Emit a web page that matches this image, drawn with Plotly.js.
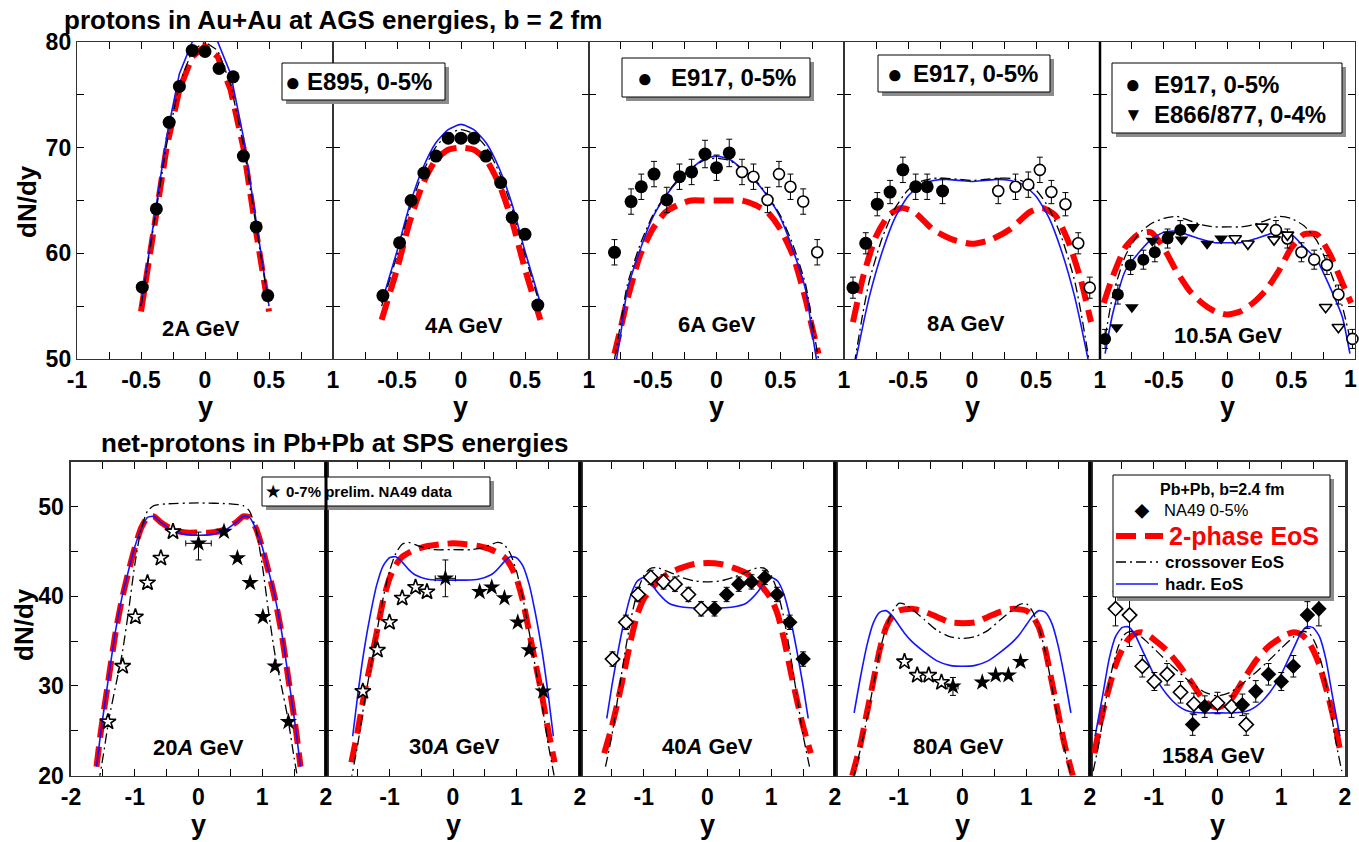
<!DOCTYPE html>
<html><head><meta charset="utf-8">
<script src="https://cdn.plot.ly/plotly-3.0.1.min.js"></script>
<style>html,body{margin:0;padding:0;background:#fff;} #chart{width:1359px;height:842px;}</style>
</head><body><div id="chart"></div>
<script>
// ===================== DATA =====================
// ---- top row: protons in Au+Au (AGS) ----
const panelLabelsTop = ['2A GeV','4A GeV','6A GeV','8A GeV','10.5A GeV'];
const panelLabelsBot = ['20<i>A</i> GeV','30<i>A</i> GeV','40<i>A</i> GeV','80<i>A</i> GeV','158<i>A</i> GeV'];
const ticksTopFirst = [-1,-0.5,0,0.5,1];
const ticksTopRest = [-0.5,0,0.5,1];
const ticksTopLast = [-0.5,0,0.5];
const lastTopEdgeLabel = '1';
const ticksBotFirst = [-2,-1,0,1,2];
const ticksBotRest = [-1,0,1,2];
const yTicksTop = [50,60,70,80];
const yTicksBot = [20,30,40,50];

// 2A GeV
const e895_2_x = [-0.49,-0.38,-0.28,-0.2,-0.1,0,0.11,0.22,0.3,0.4,0.49];
const e895_2_y = [56.8,64.2,72.4,75.8,79.2,79.1,77.5,76.7,69.2,62.5,56.0];
const c2_x   = [-0.5,-0.4,-0.3,-0.2,-0.1,0,0.1,0.2,0.3,0.4,0.5];
const red2   = [54.5,62,70,75.5,78.6,79.6,78.6,75.5,70,62,54.5];
const black2 = [55,62.5,70.3,76,79.2,80,79.2,76,70.3,62.5,55];
const blue2  = [55,63,71,77,80,81,80,77,71,63,55];

// 4A GeV
const e895_4_x = [-0.61,-0.48,-0.39,-0.29,-0.195,-0.1,0,0.1,0.195,0.31,0.4,0.5,0.6];
const e895_4_y = [56.0,61.0,65.0,67.6,69.2,70.9,70.9,70.9,69.2,66.7,63.4,61.8,55.1];
const c4_x   = [-0.62,-0.5,-0.4,-0.3,-0.2,-0.1,0,0.1,0.2,0.3,0.4,0.5,0.62];
const red4   = [53.7,58.5,63,66.5,68.8,69.8,70.0,69.8,68.8,66.5,63,58.5,53.7];
const black4 = [55,59.8,64.2,67.6,70.0,71.3,71.7,71.3,70.0,67.6,64.2,59.8,55];
const blue4  = [55.3,60.2,64.6,68.0,70.4,71.7,72.2,71.7,70.4,68.0,64.6,60.2,55.3];

// 6A GeV
const e917_6f_x = [-0.8,-0.67,-0.59,-0.49,-0.39,-0.29,-0.195,-0.09,0,0.1];
const e917_6f_y = [60.1,64.9,66.3,67.5,65.05,67.25,67.7,69.4,68.1,69.5];
const e917_6f_e = [1.2,1.2,1.2,1.2,1.2,1.2,1.2,1.3,1.2,1.3];
const e917_6o_x = [0.2,0.29,0.4,0.49,0.58,0.68,0.79];
const e917_6o_y = [67.7,67.25,65.05,67.5,66.3,64.9,60.1];
const e917_6o_e = [1.2,1.2,1.2,1.2,1.2,1.2,1.2];
const c6_x   = [-0.8,-0.75,-0.7,-0.6,-0.5,-0.4,-0.3,-0.2,-0.1,0,0.1,0.2,0.3,0.4,0.5,0.6,0.7,0.75,0.8];
const red6   = [50.5,53,55.6,59.8,62.3,63.9,64.6,65.0,65.0,65.0,65.0,65.0,64.6,63.9,62.3,59.8,55.6,53,50.5];
const black6 = [50.0,53.5,57.0,60.8,63.6,65.5,67.0,68.0,68.8,69.0,68.8,68.0,67.0,65.5,63.6,60.8,57.0,53.5,50.0];
const blue6  = [48.8,52.5,56.5,60.3,63.4,65.4,66.9,68.0,68.9,69.2,68.9,68.0,66.9,65.4,63.4,60.3,56.5,52.5,48.8];

// 8A GeV
const e917_8f_x = [-0.93,-0.83,-0.74,-0.64,-0.54,-0.44,-0.35,-0.23];
const e917_8f_y = [56.75,60.95,64.65,65.8,67.9,66.3,66.3,65.9];
const e917_8f_e = [1.0,1.0,1.1,1.1,1.2,1.2,1.2,1.2];
const e917_8o_x = [0.205,0.34,0.44,0.53,0.62,0.73,0.83,0.92];
const e917_8o_y = [65.9,66.3,66.5,67.9,65.8,64.65,60.95,56.75];
const e917_8o_e = [1.2,1.2,1.2,1.2,1.1,1.1,1.0,1.0];
const c8_x   = [-0.92,-0.85,-0.8,-0.7,-0.6,-0.5,-0.4,-0.3,-0.2,-0.1,0,0.1,0.2,0.3,0.4,0.5,0.6,0.7,0.8,0.85,0.92];
const black8 = [49.5,54.5,57.5,61.5,64.3,66.0,66.8,67.1,67.1,67.0,66.9,67.0,67.1,67.1,66.8,66.0,64.3,61.5,57.5,54.5,49.5];
const blue8  = [49.2,53.3,56.0,60.2,63.4,65.4,66.5,66.9,67.0,66.9,66.8,66.9,67.0,66.9,66.5,65.4,63.4,60.2,56.0,53.3,49.2];
const r8_x   = [-0.93,-0.85,-0.75,-0.65,-0.55,-0.45,-0.3,-0.15,0,0.15,0.3,0.45,0.55,0.65,0.75,0.85,0.93];
const red8   = [53.5,57.8,61.6,63.6,64.3,63.9,62.2,61.3,60.9,61.3,62.3,63.9,64.3,63.6,61.2,57.5,53.5];

// 10.5A GeV
const e917_10f_x = [-0.96,-0.86,-0.76,-0.66,-0.57,-0.47,-0.37];
const e917_10f_y = [51.9,56.1,58.9,59.4,60.1,61.4,62.2];
const e917_10o_x = [0.38,0.47,0.58,0.68,0.78,0.87,0.98];
const e917_10o_y = [62.2,61.4,60.1,59.4,58.9,56.1,51.9];
const e917_10_e  = [0.9,0.9,0.9,0.9,0.9,0.9,0.9];
const e866_f_x = [-0.87,-0.75,-0.59,-0.455,-0.36,-0.27,-0.16,-0.05];
const e866_f_y = [53.0,54.9,61.2,61.75,61.3,62.5,60.9,61.4];
const e866_o_x = [0.06,0.16,0.27,0.365,0.47,0.77,0.87];
const e866_o_y = [61.4,60.9,62.5,61.3,61.75,54.9,53.0];
const c10_x   = [-0.96,-0.9,-0.8,-0.7,-0.6,-0.5,-0.4,-0.3,-0.2,-0.1,0,0.1,0.2,0.3,0.4,0.5,0.6,0.7,0.8,0.9,0.96];
const black10 = [52.0,56.0,59.8,61.8,62.8,63.3,63.5,63.1,62.7,62.5,62.5,62.5,62.7,63.1,63.5,63.3,62.6,61.2,58.5,55.0,52.0];
const blue10  = [50.5,54.3,58.4,60.0,61.3,62.0,62.1,61.7,61.3,61.0,61.0,61.0,61.3,61.7,62.1,61.8,60.6,59.4,56.9,54.0,50.5];
const r10_x   = [-0.97,-0.9,-0.8,-0.7,-0.6,-0.5,-0.4,-0.3,-0.2,-0.1,0,0.1,0.2,0.3,0.4,0.5,0.6,0.7,0.8,0.9,0.97];
const red10   = [55.3,57.8,60.6,61.8,62.0,60.5,58.3,56.5,55.3,54.5,54.2,54.5,55.3,56.5,58.3,60.5,61.8,61.8,60.0,57.2,55.3];

// ---- bottom row: net-protons in Pb+Pb (SPS) ----
// 20A GeV
const na49_20o_x = [-1.42,-1.19,-0.99,-0.8,-0.59,-0.4];
const na49_20o_y = [26.0,32.2,37.7,41.5,44.25,47.2];
const na49_20f_x = [0,0.4,0.61,0.81,1.01,1.2,1.41];
const na49_20f_y = [45.9,47.2,44.25,41.5,37.7,32.2,26.0];
const na49_20f_eup = [1.25,0,0,0,0,0,0];
const na49_20f_edn = [1.85,0,0,0,0,0,0];
const na49_20f_ex  = [0.2,0,0,0,0,0,0];
const c20_x  = [-1.6,-1.53,-1.42,-1.3,-1.2,-1.1,-1.0,-0.9,-0.8,-0.7,-0.6,-0.4,-0.2,0,0.2,0.4,0.6,0.7,0.8,0.9,1.0,1.1,1.2,1.3,1.42,1.53,1.6];
const red20  = [21,25,30.3,36,39.7,42.7,45.4,47.6,48.8,48.9,48.3,47.4,47.1,47.1,47.1,47.4,48.3,48.9,48.8,47.6,45.4,42.7,39.7,36,30.3,25,21];
const blue20 = [21,25,30.5,36.2,39.9,42.8,45.5,47.5,48.8,48.9,48.3,47.3,46.9,46.8,46.9,47.3,48.3,48.9,48.8,47.5,45.5,42.8,39.9,36.2,30.5,25,21];
const b20_x  = [-1.62,-1.5,-1.4,-1.3,-1.2,-1.1,-1.0,-0.9,-0.8,-0.7,-0.5,0,0.5,0.7,0.8,0.9,1.0,1.1,1.2,1.3,1.4,1.5,1.62];
const black20= [17,22,26.5,30,33.5,38.2,43.5,47.5,49.5,50.1,50.3,50.4,50.3,50.1,49.5,47.5,43.5,38.2,33.5,30,26.5,22,17];

// 30A GeV
const na49_30o_x = [-1.42,-1.19,-1.0,-0.8,-0.59,-0.41];
const na49_30o_y = [29.4,34.0,37.1,39.8,41.0,40.5];
const na49_30f_x = [-0.12,0.42,0.61,0.81,1.02,1.2,1.42];
const na49_30f_y = [42.0,40.5,41.0,39.8,37.1,34.0,29.4];
const na49_30f_e  = [2.05,0,0,0,0,0,0];
const na49_30f_ex = [0.16,0,0,0,0,0,0];
const bl30_x = [-1.58,-1.5,-1.4,-1.3,-1.2,-1.1,-1.0,-0.9,-0.8,-0.7,-0.6,-0.4,-0.2,0,0.2,0.4,0.6,0.7,0.8,0.9,1.0,1.1,1.2,1.3,1.4,1.5,1.58];
const blue30 = [24.4,29,34,38,41.3,43.4,44.3,44.4,43.8,43.0,42.4,41.9,41.8,41.8,41.8,41.9,42.4,43.0,43.8,44.4,44.3,43.4,41.3,38,34,29,24.4];
const r30_x  = [-1.6,-1.5,-1.4,-1.3,-1.2,-1.1,-1.0,-0.9,-0.8,-0.6,-0.4,-0.2,0,0.2,0.4,0.6,0.8,0.9,1.0,1.1,1.2,1.3,1.4,1.5,1.6];
const red30  = [21.5,25,29,32.5,36,39.5,42,43.5,44.4,45.2,45.6,45.8,45.9,45.8,45.6,45.2,44.4,43.5,42,39.5,36,32.5,29,25,21.5];
const b30_x  = [-1.62,-1.5,-1.4,-1.3,-1.2,-1.1,-1.0,-0.9,-0.8,-0.7,-0.5,-0.3,0,0.3,0.5,0.7,0.8,0.9,1.0,1.1,1.2,1.3,1.4,1.5,1.62];
const black30= [19,23.5,28,32,36,39.8,42.8,44.8,45.8,46.0,45.5,45.2,45.2,45.2,45.5,46.0,45.8,44.8,42.8,39.8,36,32,28,23.5,19];

// 40A GeV
const na49_40o_x = [-1.49,-1.28,-1.09,-0.89,-0.69,-0.51,-0.30,-0.10];
const na49_40o_y = [33.0,37.1,40.2,42.1,41.6,41.35,40.2,38.6];
const na49_40f_x = [0.11,0.30,0.49,0.69,0.90,1.09,1.29,1.50];
const na49_40f_y = [38.6,40.2,41.35,41.6,42.1,40.2,37.1,33.0];
const na49_40_e  = [0.8,0.8,0.8,0.8,0.8,0.8,0.8,0.8];
const bl40_x = [-1.58,-1.5,-1.4,-1.3,-1.2,-1.1,-1.0,-0.9,-0.8,-0.7,-0.6,-0.4,-0.2,0,0.2,0.4,0.6,0.7,0.8,0.9,1.0,1.1,1.2,1.3,1.4,1.5,1.58];
const blue40 = [26.4,30,34,37.5,40.2,41.7,42.1,41.6,40.6,39.8,39.2,38.8,38.7,38.7,38.7,38.8,39.2,39.8,40.6,41.6,42.1,41.7,40.2,37.5,34,30,26.4];
const b40_x  = [-1.6,-1.5,-1.4,-1.3,-1.2,-1.1,-1.0,-0.9,-0.8,-0.6,-0.4,-0.2,0,0.2,0.4,0.6,0.8,0.9,1.0,1.1,1.2,1.3,1.4,1.5,1.6];
const black40= [21,24.5,29,33.5,37.5,40.5,42.3,43.1,43.2,42.7,42.1,41.7,41.6,41.7,42.1,42.7,43.2,43.1,42.3,40.5,37.5,33.5,29,24.5,21];
const r40_x  = [-1.62,-1.5,-1.4,-1.3,-1.2,-1.1,-1.0,-0.8,-0.6,-0.4,-0.2,0,0.2,0.4,0.6,0.8,1.0,1.1,1.2,1.3,1.4,1.5,1.62];
const red40  = [22.5,25.5,28.5,31.8,35.2,38,39.7,41.5,42.6,43.2,43.6,43.7,43.6,43.2,42.6,41.5,39.7,38,35.2,31.8,28.5,25.5,22.5];

// 80A GeV
const na49_80o_x = [-0.91,-0.71,-0.53,-0.33];
const na49_80o_y = [32.7,31.2,31.2,30.4];
const na49_80f_x = [-0.15,0.31,0.52,0.72,0.91];
const na49_80f_y = [29.95,30.4,31.2,31.2,32.7];
const na49_80f_e  = [1.0,0,0,0,0];
const na49_80f_ex = [0.08,0,0,0,0];
const bl80_x = [-1.7,-1.6,-1.5,-1.4,-1.3,-1.2,-1.1,-1.0,-0.9,-0.8,-0.6,-0.4,-0.2,0,0.2,0.4,0.6,0.8,0.9,1.0,1.1,1.2,1.3,1.4,1.5,1.6,1.7];
const blue80 = [27,31,34.5,37,38.2,38.4,37.8,36.8,35.8,35,33.8,32.8,32.3,32.2,32.3,32.8,33.8,35,35.8,36.8,37.8,38.4,38.2,37,34.5,31,27];
const b80_x  = [-1.72,-1.6,-1.5,-1.4,-1.3,-1.2,-1.1,-1.0,-0.9,-0.8,-0.6,-0.4,-0.2,0,0.2,0.4,0.6,0.8,0.9,1.0,1.1,1.2,1.3,1.4,1.5,1.6,1.72];
const black80= [19.5,23,26.3,30,33.8,36.5,38.3,39.2,39.1,38.6,37.4,36.2,35.5,35.3,35.5,36.2,37.4,38.6,39.1,39.2,38.3,36.5,33.8,30,26.3,23,19.5];
const r80_x  = [-1.73,-1.6,-1.5,-1.4,-1.3,-1.2,-1.1,-1.0,-0.8,-0.6,-0.4,-0.2,0,0.2,0.4,0.6,0.8,1.0,1.1,1.2,1.3,1.4,1.5,1.6,1.73];
const red80  = [20,23.5,27,30.5,34,36.5,37.8,38.4,38.6,38.3,37.7,37.1,37.0,37.1,37.7,38.3,38.6,38.4,37.8,36.5,34,30.5,27,23.5,20];

// 158A GeV
const na49_158o_x = [-1.6,-1.38,-1.18,-0.99,-0.79,-0.58,-0.37,0,0.22,0.45];
const na49_158o_y = [38.6,37.9,32.2,30.5,31.3,29.3,28.0,28.1,27.7,25.7];
const na49_158o_e = [1.9,3.5,1.2,1.0,1.2,1.2,1.2,1.2,1.2,1.2];
const na49_158f_x = [-0.39,-0.2,0.39,0.6,0.8,1.0,1.19,1.41,1.59];
const na49_158f_y = [25.7,27.7,27.9,29.4,31.3,30.5,32.2,37.9,38.6];
const na49_158f_e = [1.2,1.2,1.2,1.2,1.2,1.0,1.2,1.5,1.9];
const bl158_x = [-1.92,-1.8,-1.7,-1.6,-1.5,-1.4,-1.3,-1.2,-1.1,-1.0,-0.9,-0.8,-0.7,-0.6,-0.5,-0.4,-0.2,0,0.2,0.4,0.5,0.6,0.7,0.8,0.9,1.0,1.1,1.2,1.3,1.4,1.5,1.6,1.7,1.8,1.92];
const blue158 = [24.4,29,33,35.5,36.5,36.6,35.8,34.3,32.8,31.3,30.1,29.1,28.3,27.7,27.3,27.1,27.0,27.0,27.0,27.1,27.3,27.7,28.3,29.1,30.1,31.3,32.8,34.3,35.8,36.6,36.5,35.5,33,29,24.4];
const b158_x  = [-1.95,-1.85,-1.75,-1.65,-1.55,-1.45,-1.35,-1.2,-1.0,-0.8,-0.6,-0.4,-0.2,0,0.2,0.4,0.6,0.8,1.0,1.2,1.35,1.45,1.55,1.65,1.75,1.85,1.95];
const black158= [20.5,24,28.5,32,34.5,35.8,36.1,35.5,34.2,32.8,31.5,30.3,29.3,28.9,29.3,30.3,31.5,32.8,34.2,35.5,36.1,35.8,34.5,32,28.5,24,20.5];
const r158_x  = [-1.93,-1.85,-1.75,-1.6,-1.5,-1.4,-1.3,-1.2,-1.1,-1.0,-0.8,-0.6,-0.4,-0.2,0,0.2,0.4,0.6,0.8,1.0,1.1,1.2,1.3,1.4,1.5,1.6,1.75,1.85,1.93];
const red158  = [22.5,25.5,28.5,32.3,34,35.2,35.8,36.0,35.7,35.2,34.0,32.3,30.3,28.3,27.6,28.4,30.6,32.8,34.4,35.4,35.8,36.0,35.8,35.2,34,32.3,28.5,25.5,22.5];

// ===================== DRAWING =====================
const W = 1359, H = 842;
const px = x => x / W, py = y => 1 - y / H;
const FONT = 'Liberation Sans, Arial, sans-serif';
const topX = [77,333,589,844,1100,1355];
const botX = [71,326,580,835,1090,1345];
const topY = [42,359], botY = [461.7,775.7];

const STY = {
  red:   {color:'#ff0000', width:6, dash:'20px,9px'},
  black: {color:'#000000', width:1.3, dash:'10px,4px,2px,4px'},
  blue:  {color:'#1414ff', width:1.6}
};
const traces = [];
const sfx = i => (i === 1 ? '' : String(i));
function curve(i, xs, ys, kind, shape) {
  traces.push({type:'scatter', mode:'lines', x:xs, y:ys, xaxis:'x'+sfx(i), yaxis:'y'+sfx(i),
    line:Object.assign({shape: shape || 'spline', smoothing:0.6}, STY[kind]), hoverinfo:'skip', showlegend:false});
}
function pts(i, xs, ys, symbol, open, size, ey, opts) {
  const t = {type:'scatter', mode:'markers', x:xs, y:ys, xaxis:'x'+sfx(i), yaxis:'y'+sfx(i),
    marker:{symbol:symbol, size:size, color: open ? '#ffffff' : '#000000', line:{color:'#000000', width: open ? 1.6 : 0}},
    hoverinfo:'skip', showlegend:false, cliponaxis:false};
  if (ey) t.error_y = {type:'data', array:ey, color:'#000', thickness:1, width:3};
  if (opts && opts.eyminus) { t.error_y.symmetric = false; t.error_y.arrayminus = opts.eyminus; }
  if (opts && opts.ex) t.error_x = {type:'data', array:opts.ex, color:'#000', thickness:1, width:3};
  traces.push(t);
}

// panel 1: 2A
curve(1, c2_x, red2, 'red', 'linear'); curve(1, c2_x, blue2, 'blue', 'linear'); curve(1, c2_x, black2, 'black', 'linear');
pts(1, e895_2_x, e895_2_y, 'circle', false, 13);
// panel 2: 4A
curve(2, c4_x, red4, 'red'); curve(2, c4_x, blue4, 'blue'); curve(2, c4_x, black4, 'black');
pts(2, e895_4_x, e895_4_y, 'circle', false, 13);
// panel 3: 6A
curve(3, c6_x, red6, 'red'); curve(3, c6_x, blue6, 'blue'); curve(3, c6_x, black6, 'black');
pts(3, e917_6f_x, e917_6f_y, 'circle', false, 13, e917_6f_e);
pts(3, e917_6o_x, e917_6o_y, 'circle', true, 11, e917_6o_e);
// panel 4: 8A
curve(4, r8_x, red8, 'red'); curve(4, c8_x, blue8, 'blue'); curve(4, c8_x, black8, 'black');
pts(4, e917_8f_x, e917_8f_y, 'circle', false, 13, e917_8f_e);
pts(4, e917_8o_x, e917_8o_y, 'circle', true, 11, e917_8o_e);
// panel 5: 10.5A
curve(5, r10_x, red10, 'red'); curve(5, c10_x, blue10, 'blue'); curve(5, c10_x, black10, 'black');
pts(5, e917_10f_x, e917_10f_y, 'circle', false, 12, e917_10_e);
pts(5, e917_10o_x, e917_10o_y, 'circle', true, 11, e917_10_e);
pts(5, e866_f_x, e866_f_y, 'triangle-down', false, 12);
pts(5, e866_o_x, e866_o_y, 'triangle-down', true, 11);
// panel 6: 20A
curve(6, c20_x, red20, 'red'); curve(6, c20_x, blue20, 'blue'); curve(6, b20_x, black20, 'black');
pts(6, na49_20o_x, na49_20o_y, 'star', true, 12);
pts(6, na49_20f_x, na49_20f_y, 'star', false, 13, na49_20f_eup, {eyminus:na49_20f_edn, ex:na49_20f_ex});
// panel 7: 30A
curve(7, r30_x, red30, 'red'); curve(7, bl30_x, blue30, 'blue'); curve(7, b30_x, black30, 'black');
pts(7, na49_30o_x, na49_30o_y, 'star', true, 12);
pts(7, na49_30f_x, na49_30f_y, 'star', false, 13, na49_30f_e, {ex:na49_30f_ex});
// panel 8: 40A
curve(8, r40_x, red40, 'red'); curve(8, bl40_x, blue40, 'blue'); curve(8, b40_x, black40, 'black');
pts(8, na49_40o_x, na49_40o_y, 'diamond', true, 11, na49_40_e);
pts(8, na49_40f_x, na49_40f_y, 'diamond', false, 12, na49_40_e);
// panel 9: 80A
curve(9, r80_x, red80, 'red'); curve(9, bl80_x, blue80, 'blue'); curve(9, b80_x, black80, 'black');
pts(9, na49_80o_x, na49_80o_y, 'star', true, 12);
pts(9, na49_80f_x, na49_80f_y, 'star', false, 13, na49_80f_e, {ex:na49_80f_ex});
// panel 10: 158A
curve(10, r158_x, red158, 'red'); curve(10, bl158_x, blue158, 'blue'); curve(10, b158_x, black158, 'black');
pts(10, na49_158o_x, na49_158o_y, 'diamond', true, 11, na49_158o_e);
pts(10, na49_158f_x, na49_158f_y, 'diamond', false, 12, na49_158f_e);

// ---- axes ----
const layout = {
  width: W, height: H, margin:{l:0,r:0,t:0,b:0}, paper_bgcolor:'#fff', plot_bgcolor:'rgba(0,0,0,0)',
  showlegend:false, font:{family:FONT, color:'#000'}, annotations:[], shapes:[]
};
const tickFont = {family:FONT, size:23, color:'#000', weight:'bold'};
const lab = v => String(v);
for (let k = 0; k < 10; k++) {
  const i = k + 1, top = k < 5, c = top ? k : k - 5;
  const xs = top ? topX : botX, ys = top ? topY : botY;
  const tv = top ? (c === 0 ? ticksTopFirst : (c === 4 ? ticksTopLast : ticksTopRest)) : (c === 0 ? ticksBotFirst : ticksBotRest);
  layout['xaxis' + sfx(i)] = {
    domain:[px(xs[c]), px(xs[c+1])], range: top ? [-1,1] : [-2,2], anchor:'y'+sfx(i),
    tickmode:'array', tickvals:tv, ticktext:tv.map(lab), ticks:'inside', ticklen:7, tickwidth:1, tickcolor:'#000',
    minor:{tickmode:'linear', tick0:0, dtick: top ? 0.25 : 0.5, ticks:'inside', ticklen:7, tickwidth:1, tickcolor:'#000'},
    showline:true, linecolor:'#333', linewidth: top ? 1.2 : 1.5, mirror:'ticks', showgrid:false, zeroline:false,
    tickfont:tickFont, ticklabeloverflow:'allow', fixedrange:true
  };
  const ytv = top ? yTicksTop : yTicksBot;
  layout['yaxis' + sfx(i)] = {
    domain:[py(ys[1]), py(ys[0])], range: top ? [50,80] : [20,55], anchor:'x'+sfx(i),
    tickmode:'array', tickvals:ytv, ticktext:ytv.map(lab), showticklabels: c === 0,
    ticks:'inside', ticklen:7, tickwidth:1, tickcolor:'#000',
    minor:{tickmode:'linear', tick0:0, dtick:5, ticks:'inside', ticklen:7, tickwidth:1, tickcolor:'#000'},
    showline:true, linecolor:'#333', linewidth: top ? 1.2 : 2.5, mirror:'ticks', showgrid:false, zeroline:false,
    tickfont:tickFont, ticklabeloverflow:'allow', fixedrange:true
  };
}

// ---- text ----
function ann(x, y, text, size, opts) {
  layout.annotations.push(Object.assign({xref:'paper', yref:'paper', x:px(x), y:py(y), text:text, showarrow:false,
    xanchor:'center', yanchor:'middle', font:{family:FONT, size:size, color:'#000', weight:'bold'}}, opts || {}));
}
// right-edge tick label of last top panel (kept inside the page)
ann(1350, 379, lastTopEdgeLabel, 23);
ann(62, 20, 'protons in Au+Au at AGS energies, b = 2 fm', 26, {xanchor:'left'});
ann(99, 443, 'net-protons in Pb+Pb at SPS energies', 26, {xanchor:'left'});
ann(27, 202, 'dN/dy', 26, {textangle:-90});
ann(24, 625, 'dN/dy', 26, {textangle:-90});
for (let c = 0; c < 5; c++) {
  ann((topX[c] + topX[c+1]) / 2, 407, 'y', 27);
  ann((botX[c] + botX[c+1]) / 2, 825, 'y', 27);
}
// panel labels (data coords)
const labTopPos = [[-0.03,52.9],[0.02,53.2],[0.0,53.3],[-0.05,53.4],[0.0,52.2]];
const labBotPos = [[0.0,23.1],[0.03,23.2],[0.0,23.2],[-0.07,23.2],[-0.06,22.3]];
for (let c = 0; c < 5; c++) {
  layout.annotations.push({xref:'x'+sfx(c+1), yref:'y'+sfx(c+1), x:labTopPos[c][0], y:labTopPos[c][1], text:panelLabelsTop[c],
    showarrow:false, font:{family:FONT, size:22, color:'#000', weight:'bold'}});
  layout.annotations.push({xref:'x'+sfx(c+6), yref:'y'+sfx(c+6), x:labBotPos[c][0], y:labBotPos[c][1], text:panelLabelsBot[c],
    showarrow:false, font:{family:FONT, size:22, color:'#000', weight:'bold'}});
}

// ---- legend boxes ----
function box(x0, y0, x1, y1) {
  layout.shapes.push({type:'rect', xref:'paper', yref:'paper', x0:px(x0+4), x1:px(x1+4), y0:py(y1+4), y1:py(y0+4),
    fillcolor:'#8c8c8c', line:{width:0}, layer:'above'});
  layout.shapes.push({type:'rect', xref:'paper', yref:'paper', x0:px(x0), x1:px(x1), y0:py(y1), y1:py(y0),
    fillcolor:'#ffffff', line:{color:'#000', width:1}, layer:'above'});
}
function seg(x0, x1, y, kind) {
  layout.shapes.push({type:'line', xref:'paper', yref:'paper', x0:px(x0), x1:px(x1), y0:py(y), y1:py(y),
    line:STY[kind], layer:'above'});
}
box(282, 63, 445, 100);
ann(293, 82, '●', 26); ann(305, 82, 'E895, 0-5%', 24, {xanchor:'left'});
box(622, 58, 810, 97);
ann(645, 78, '●', 26); ann(669, 78, 'E917, 0-5%', 24, {xanchor:'left'});
box(878, 55, 1050, 92);
ann(895, 74, '●', 26); ann(911, 74, 'E917, 0-5%', 24, {xanchor:'left'});
box(1112, 63, 1342, 133);
ann(1133, 84, '●', 26); ann(1152, 84, 'E917, 0-5%', 24, {xanchor:'left'});
ann(1133, 114, '▼', 19); ann(1152, 114, 'E866/877, 0-4%', 24, {xanchor:'left'});
box(262, 477, 490, 506);
ann(273, 492, '★', 16); ann(284, 492, '0-7% prelim. NA49 data', 15, {xanchor:'left'});
box(1113, 475, 1330, 597);
ann(1222, 489, 'Pb+Pb, b=2.4 fm', 16);
ann(1142, 510, '◆', 18); ann(1162, 510, 'NA49 0-5%', 16.5, {xanchor:'left', font:{family:FONT, size:16.5, color:'#000'}});
seg(1116, 1163, 536, 'red');
ann(1167, 536, '2-phase EoS', 25, {xanchor:'left', font:{family:FONT, size:25, color:'#ff0000', weight:'bold'}});
seg(1116, 1158, 562, 'black'); ann(1163, 562, 'crossover EoS', 17, {xanchor:'left'});
seg(1116, 1158, 584, 'blue'); ann(1163, 584, 'hadr. EoS', 17, {xanchor:'left'});

// thick panel separators
[326, 580, 835, 1090].forEach(x => layout.shapes.push({type:'line', xref:'paper', yref:'paper', x0:px(x), x1:px(x),
  y0:py(botY[1]), y1:py(botY[0]), line:{color:'#000', width:3}, layer:'above'}));
layout.shapes.push({type:'line', xref:'paper', yref:'paper', x0:px(1100), x1:px(1100), y0:py(topY[1]), y1:py(topY[0]),
  line:{color:'#000', width:2.5}, layer:'above'});

Plotly.newPlot('chart', traces, layout, {staticPlot:true, displayModeBar:false});
</script></body></html>
